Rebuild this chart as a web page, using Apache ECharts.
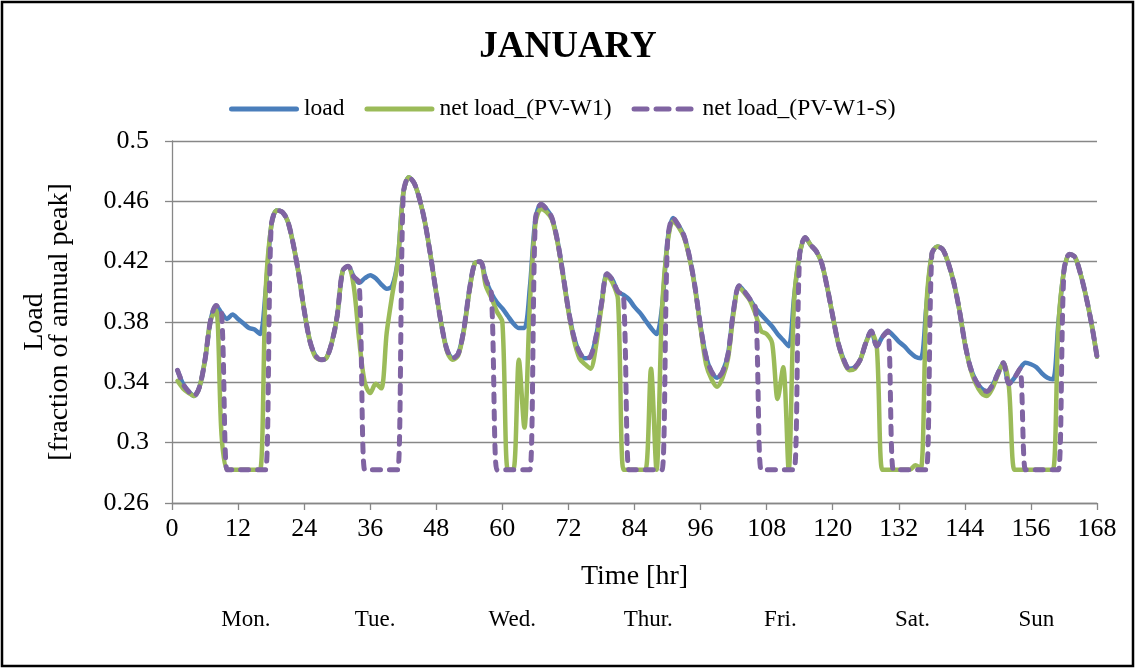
<!DOCTYPE html>
<html>
<head>
<meta charset="utf-8">
<script src="https://cdn.jsdelivr.net/npm/echarts@6/dist/echarts.min.js"></script>
<style>
html,body{margin:0;padding:0;background:#fff;}
#chart{width:1136px;height:669px;}
</style>
</head>
<body>
<div id="chart"></div>
<script>
// ---- data (hourly, hours 1..168) ----
const hours = Array.from({length: 168}, (_, i) => i + 1);

const load = [
  0.348,0.339,0.334,0.331,0.337,0.355,0.381,0.391,0.386,0.382,0.385,0.382,
  0.379,0.376,0.375,0.372,0.400,0.443,0.454,0.453,0.447,0.432,0.412,0.388,
  0.368,0.358,0.355,0.356,0.366,0.384,0.414,0.417,0.410,0.406,0.409,0.411,
  0.409,0.405,0.402,0.404,0.421,0.465,0.476,0.472,0.461,0.445,0.423,0.399,
  0.377,0.361,0.356,0.359,0.375,0.401,0.419,0.420,0.408,0.399,0.393,0.389,
  0.384,0.379,0.376,0.376,0.403,0.448,0.458,0.455,0.449,0.434,0.412,0.388,
  0.370,0.360,0.356,0.357,0.370,0.392,0.412,0.408,0.400,0.398,0.395,0.390,
  0.386,0.381,0.376,0.372,0.390,0.434,0.449,0.444,0.437,0.423,0.403,0.377,
  0.357,0.347,0.343,0.347,0.359,0.388,0.404,0.400,0.395,0.389,0.385,0.381,
  0.377,0.372,0.368,0.364,0.397,0.425,0.436,0.431,0.427,0.419,0.403,0.384,
  0.366,0.355,0.349,0.350,0.355,0.366,0.374,0.364,0.370,0.374,0.371,0.367,
  0.364,0.360,0.357,0.356,0.390,0.425,0.430,0.428,0.419,0.406,0.388,0.366,
  0.350,0.341,0.336,0.334,0.338,0.346,0.353,0.339,0.343,0.349,0.353,0.352,
  0.350,0.346,0.343,0.342,0.380,0.414,0.425,0.423,0.412,0.397,0.379,0.357
];

const netLoadPVW1 = [
  0.341,0.336,0.333,0.331,0.337,0.355,0.381,0.388,0.305,0.282,0.282,0.282,
  0.282,0.282,0.282,0.282,0.400,0.443,0.454,0.453,0.447,0.432,0.412,0.388,
  0.368,0.357,0.355,0.356,0.366,0.384,0.414,0.417,0.404,0.368,0.340,0.333,
  0.339,0.336,0.373,0.398,0.420,0.465,0.476,0.472,0.461,0.445,0.423,0.399,
  0.377,0.360,0.355,0.358,0.374,0.400,0.419,0.420,0.404,0.396,0.387,0.380,
  0.282,0.282,0.355,0.310,0.392,0.445,0.455,0.453,0.448,0.433,0.411,0.387,
  0.368,0.356,0.352,0.349,0.364,0.390,0.411,0.406,0.395,0.282,0.282,0.282,
  0.282,0.282,0.349,0.282,0.388,0.432,0.447,0.443,0.436,0.422,0.402,0.376,
  0.352,0.342,0.337,0.343,0.356,0.386,0.403,0.399,0.394,0.385,0.374,0.372,
  0.366,0.329,0.350,0.282,0.395,0.425,0.436,0.431,0.427,0.419,0.403,0.384,
  0.366,0.354,0.348,0.349,0.355,0.366,0.373,0.364,0.282,0.282,0.282,0.282,
  0.282,0.282,0.285,0.283,0.390,0.425,0.430,0.428,0.419,0.406,0.388,0.366,
  0.349,0.339,0.333,0.331,0.336,0.345,0.353,0.337,0.282,0.282,0.282,0.282,
  0.282,0.282,0.282,0.282,0.378,0.414,0.425,0.423,0.412,0.397,0.379,0.357
];

const netLoadPVW1S = [
  0.348,0.339,0.334,0.331,0.337,0.355,0.381,0.391,0.386,0.282,0.282,0.282,
  0.282,0.282,0.282,0.282,0.282,0.443,0.454,0.453,0.447,0.432,0.412,0.388,
  0.368,0.358,0.355,0.356,0.366,0.384,0.414,0.417,0.410,0.406,0.282,0.282,
  0.282,0.282,0.282,0.282,0.282,0.465,0.476,0.472,0.461,0.445,0.423,0.399,
  0.377,0.361,0.356,0.359,0.375,0.401,0.419,0.420,0.408,0.399,0.282,0.282,
  0.282,0.282,0.282,0.282,0.282,0.448,0.458,0.455,0.449,0.434,0.412,0.388,
  0.370,0.360,0.356,0.357,0.370,0.392,0.412,0.408,0.400,0.398,0.282,0.282,
  0.282,0.282,0.282,0.282,0.282,0.434,0.449,0.444,0.437,0.423,0.403,0.377,
  0.357,0.347,0.343,0.347,0.359,0.388,0.404,0.400,0.395,0.389,0.282,0.282,
  0.282,0.282,0.282,0.282,0.282,0.425,0.436,0.431,0.427,0.419,0.403,0.384,
  0.366,0.355,0.349,0.350,0.355,0.366,0.374,0.364,0.370,0.374,0.282,0.282,
  0.282,0.282,0.282,0.282,0.282,0.425,0.430,0.428,0.419,0.406,0.388,0.366,
  0.350,0.341,0.336,0.334,0.338,0.346,0.353,0.339,0.343,0.349,0.282,0.282,
  0.282,0.282,0.282,0.282,0.282,0.414,0.425,0.423,0.412,0.397,0.379,0.357
];

const seriesNames = ['load', 'net load_(PV-W1)', 'net load_(PV-W1-S)'];
const dayLabels = ['Mon.', 'Tue.', 'Wed.', 'Thur.', 'Fri.', 'Sat.', 'Sun'];
const dayLabelHours = [13.4, 36.9, 61.8, 86.5, 110.5, 134.5, 157];

// ---- chart ----
const FONT = '"Liberation Serif", "Times New Roman", serif';
const GRAY = '#878787';
const COLORS = ['#4A7EBB', '#9BBB59', '#8064A2'];
const chart = echarts.init(document.getElementById('chart'), null, {renderer: 'canvas'});

function pairs(vals) { return hours.map((h, i) => [h, vals[i]]); }

const solidIcon = 'path://M2.5,0 H67.5 A2.5,2.5 0 0 1 67.5,5 H2.5 A2.5,2.5 0 0 1 2.5,0 Z';
const dashIcon = 'path://M2.5,0 H15.5 A2.5,2.5 0 0 1 15.5,5 H2.5 A2.5,2.5 0 0 1 2.5,0 Z ' +
                 'M24.5,0 H37.5 A2.5,2.5 0 0 1 37.5,5 H24.5 A2.5,2.5 0 0 1 24.5,0 Z ' +
                 'M46.5,0 H59.5 A2.5,2.5 0 0 1 59.5,5 H46.5 A2.5,2.5 0 0 1 46.5,0 Z';

const option = {
  animation: false,
  backgroundColor: '#ffffff',
  title: {
    text: 'JANUARY',
    left: 'center',
    top: 24,
    textStyle: {fontFamily: FONT, fontSize: 37, fontWeight: 'bold', color: '#000'}
  },
  legend: {
    left: 224,
    top: 92,
    itemWidth: 70,
    itemHeight: 5,
    itemGap: 20,
    textStyle: {fontFamily: FONT, fontSize: 23.5, color: '#000'},
    data: [
      {name: seriesNames[0], icon: solidIcon, itemStyle: {color: COLORS[0]}},
      {name: seriesNames[1], icon: solidIcon, itemStyle: {color: COLORS[1]}},
      {name: seriesNames[2], icon: dashIcon, itemStyle: {color: COLORS[2]}}
    ]
  },
  grid: {left: 172, right: 39, top: 141, bottom: 166, containLabel: false},
  xAxis: {
    type: 'value',
    min: 0, max: 168, interval: 12,
    name: 'Time [hr]',
    nameLocation: 'middle',
    nameGap: 60,
    nameTextStyle: {fontFamily: FONT, fontSize: 28, color: '#000'},
    axisLine: {show: true, lineStyle: {color: GRAY, width: 1.3}},
    axisTick: {show: true, length: 7, lineStyle: {color: GRAY, width: 1.3}},
    axisLabel: {fontFamily: FONT, fontSize: 26, color: '#000', margin: 13},
    splitLine: {show: false}
  },
  yAxis: {
    type: 'value',
    min: 0.26, max: 0.5, interval: 0.04,
    name: 'Load\n[fraction of annual peak]',
    nameLocation: 'middle',
    nameRotate: 90,
    nameGap: 100,
    nameTextStyle: {fontFamily: FONT, fontSize: 28, color: '#000', lineHeight: 25},
    axisLine: {show: true, lineStyle: {color: GRAY, width: 1.3}},
    axisTick: {show: true, length: 7, lineStyle: {color: GRAY, width: 1.3}},
    axisLabel: {fontFamily: FONT, fontSize: 26, color: '#000', margin: 23},
    splitLine: {show: true, lineStyle: {color: GRAY, width: 1.3}}
  },
  series: [
    {
      name: seriesNames[0], type: 'line', data: pairs(load),
      showSymbol: false, symbol: 'none', smooth: 0.3,
      lineStyle: {color: COLORS[0], width: 4.5, cap: 'round', join: 'round'},
      itemStyle: {color: COLORS[0]}, z: 2
    },
    {
      name: seriesNames[1], type: 'line', data: pairs(netLoadPVW1),
      showSymbol: false, symbol: 'none', smooth: 0.3,
      lineStyle: {color: COLORS[1], width: 4.5, cap: 'round', join: 'round'},
      itemStyle: {color: COLORS[1]}, z: 3
    },
    {
      name: seriesNames[2], type: 'line', data: pairs(netLoadPVW1S),
      showSymbol: false, symbol: 'none', smooth: 0.3,
      lineStyle: {color: COLORS[2], width: 5, type: [8, 9], cap: 'round', join: 'round'},
      itemStyle: {color: COLORS[2]}, z: 4
    }
  ]
};
chart.setOption(option);

// day labels positioned through the x axis scale
const dayY = 620;
const graphics = dayLabels.map((d, i) => {
  const px = chart.convertToPixel({xAxisIndex: 0}, dayLabelHours[i]);
  return {
    type: 'text', x: px, y: dayY,
    style: {text: d, fontFamily: FONT, fontSize: 23, fill: '#000', textAlign: 'center', textVerticalAlign: 'middle'}
  };
});
graphics.push({
  type: 'rect', shape: {x: 2, y: 2, width: 1131, height: 664},
  style: {fill: null, stroke: '#000', lineWidth: 2.5}, silent: true, z: 100
});
chart.setOption({graphic: graphics});
</script>
</body>
</html>
